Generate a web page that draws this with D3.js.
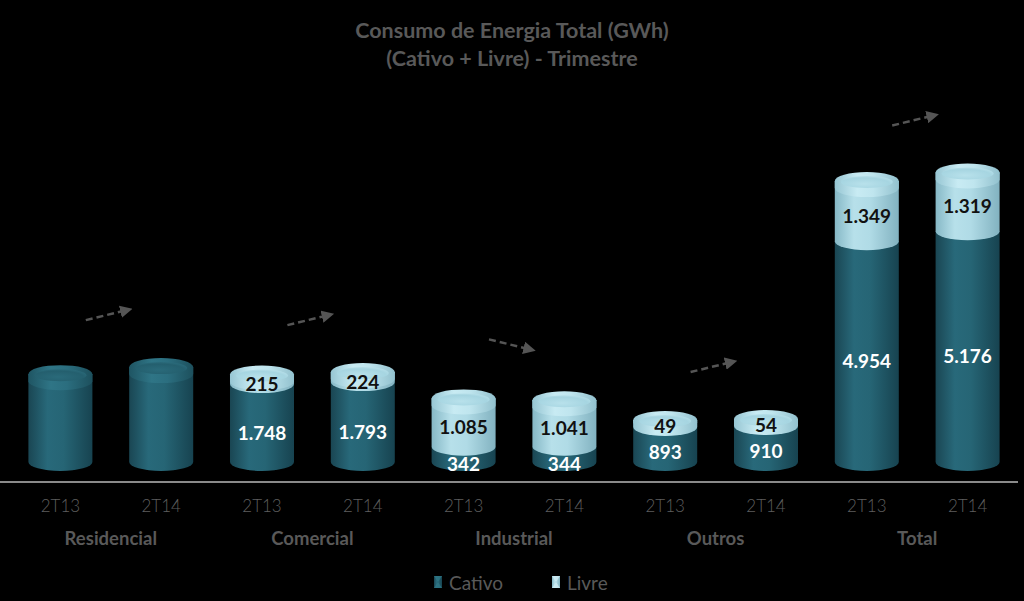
<!DOCTYPE html>
<html><head><meta charset="utf-8">
<script src="https://cdn.jsdelivr.net/npm/d3@7"></script>
<style>html,body{margin:0;background:#000;overflow:hidden}</style>
</head><body><svg id="c" width="1024" height="601"></svg>
<script>
const categories = ["Residencial","Comercial","Industrial","Outros","Total"];
const periods = ["2T13","2T14"];
const cativo2T13 = [1971,1748,342,893,4954];
const cativo2T14 = [2129,1793,344,910,5176];
const livre2T13 = [0,215,1085,49,1349];
const livre2T14 = [0,224,1041,54,1319];
const labelledCategories = ["Comercial","Industrial","Outros","Total"];
const seriesNames = ["Cativo","Livre"];
const titleLines = ["Consumo de Energia Total (GWh)","(Cativo + Livre) - Trimestre"];

const FONT = "Lato, 'Open Sans', sans-serif";
const GRAY = "#595959";
const svg = d3.select("#c");
svg.append("rect").attr("width",1024).attr("height",601).attr("fill","#000");

const defs = svg.append("defs");
function linGrad(id, stops){
  const g = defs.append("linearGradient").attr("id",id).attr("x1","0").attr("x2","1").attr("y1","0").attr("y2","0");
  stops.forEach(s=>g.append("stop").attr("offset",s[0]).attr("stop-color",s[1]));
}
function radGrad(id, stops){
  const g = defs.append("radialGradient").attr("id",id).attr("cx","0.45").attr("cy","0.65").attr("r","0.65");
  stops.forEach(s=>g.append("stop").attr("offset",s[0]).attr("stop-color",s[1]));
}
linGrad("gCativo",[[0,"#1a4653"],[0.3,"#28697a"],[0.55,"#266575"],[1,"#174350"]]);
linGrad("gLivre",[[0,"#86b8c6"],[0.3,"#b7e0ea"],[0.55,"#b0dbe6"],[1,"#82b2c0"]]);
linGrad("bCativo",[[0,"#1f5563"],[0.35,"#2f7586"],[0.6,"#2b6e7f"],[1,"#1d505d"]]);
linGrad("bLivre",[[0,"#97c6d3"],[0.35,"#c8ebf3"],[0.6,"#bfe5ee"],[1,"#92c1ce"]]);
radGrad("cCativo",[[0,"#2a6a7a"],[0.75,"#245f6e"],[1,"#2a6a7a"]]);
radGrad("cLivre",[[0,"#b8e1eb"],[0.75,"#a6d5e1"],[1,"#b6dfe9"]]);
const bodyFill = {Cativo:"url(#gCativo)", Livre:"url(#gLivre)"};
const bevelFill = {Cativo:"url(#bCativo)", Livre:"url(#bLivre)"};
const capFill = {Cativo:"url(#cCativo)", Livre:"url(#cLivre)"};

const bars = [];
categories.forEach((c,i)=>{
  bars.push({cat:c, per:periods[0], key:c+"|"+periods[0], Cativo:cativo2T13[i], Livre:livre2T13[i]});
  bars.push({cat:c, per:periods[1], key:c+"|"+periods[1], Cativo:cativo2T14[i], Livre:livre2T14[i]});
});

const x = d3.scaleBand().domain(bars.map(d=>d.key)).range([10,1018]).paddingInner(0.365).paddingOuter(0.1825);
const y = d3.scaleLinear().domain([0,7000]).range([462,150]);
const ry = 9;
const stack = d3.stack().keys(seriesNames)(bars);

function segPath(cx, w, yt, yb){
  const l=cx-w/2, r=cx+w/2, rx=w/2;
  return `M${l},${yt}L${l},${yb}A${rx},${ry} 0 0 0 ${r},${yb}L${r},${yt}Z`;
}

// axis baseline
svg.append("line").attr("x1",0).attr("x2",1018).attr("y1",482).attr("y2",482)
  .attr("stroke","#8a8a8a").attr("stroke-width",2);

const w = x.bandwidth();
// segments
stack.forEach(layer=>{
  const name = layer.key;
  svg.append("g").selectAll("path").data(layer.filter(d=>d[1]>d[0])).join("path")
    .attr("d",d=>segPath(x(d.data.key)+w/2, w, y(d[1]), y(d[0])))
    .attr("fill",bodyFill[name]);
});
// top caps (rounded bevel look)
bars.forEach(b=>{
  const total = b.Cativo + b.Livre;
  const topName = b.Livre > 0 ? "Livre" : "Cativo";
  const cx = x(b.key)+w/2, yt = y(total);
  const g = svg.append("g");
  g.append("path").attr("d",segPath(cx,w,yt,yt+7)).attr("fill", bevelFill[topName]);
  g.append("ellipse").attr("cx",cx).attr("cy",yt).attr("rx",w/2).attr("ry",ry).attr("fill",bevelFill[topName]);
  g.append("ellipse").attr("cx",cx).attr("cy",yt+1).attr("rx",w/2-6).attr("ry",ry-3).attr("fill",capFill[topName]);
});

// value labels
const labelled = bars.filter(b=>labelledCategories.includes(b.cat));
svg.append("g").selectAll("text").data(labelled).join("text")
  .attr("x",d=>x(d.key)+w/2)
  .attr("y",d=>(y(0)+y(d.Cativo))/2 + ry)
  .attr("text-anchor","middle").attr("dominant-baseline","central")
  .attr("font-family",FONT).attr("font-weight","bold").attr("font-size",19).attr("fill","#fff")
  .text(d=>d3.format(",")(d.Cativo).replace(/,/g,"."));
svg.append("g").selectAll("text").data(labelled).join("text")
  .attr("x",d=>x(d.key)+w/2)
  .attr("y",d=>(y(d.Cativo)+y(d.Cativo+d.Livre))/2 + 4)
  .attr("text-anchor","middle").attr("dominant-baseline","central")
  .attr("font-family",FONT).attr("font-weight","bold").attr("font-size",19).attr("fill","#111")
  .text(d=>d3.format(",")(d.Livre).replace(/,/g,"."));

// trend arrows
defs.append("marker").attr("id","arr").attr("viewBox","0 0 10 10").attr("refX",2).attr("refY",5)
  .attr("markerWidth",5).attr("markerHeight",5).attr("orient","auto")
  .append("path").attr("d","M0,0L10,5L0,10Z").attr("fill","#555");
categories.forEach((c,i)=>{
  const t1 = cativo2T13[i]+livre2T13[i], t2 = cativo2T14[i]+livre2T14[i];
  const c1 = x(c+"|"+periods[0])+w/2, c2 = x(c+"|"+periods[1])+w/2;
  const mid = (c1+c2)/2;
  const ym = y(Math.max(t1,t2)) - ry - 44;
  const s = t2 >= t1 ? 1 : -1;
  svg.append("line").attr("x1",mid-25).attr("y1",ym+s*6).attr("x2",mid+12).attr("y2",ym-s*3)
    .attr("stroke","#555").attr("stroke-width",2.5).attr("stroke-dasharray","7,4")
    .attr("marker-end","url(#arr)");
});

// x axis tick labels
const axis = d3.axisBottom(x).tickSize(0).tickFormat(k=>k.split("|")[1]);
const ax = svg.append("g").attr("transform","translate(0,497)").call(axis);
ax.select(".domain").remove();
ax.selectAll("text").attr("font-family",FONT).attr("font-weight","300").attr("font-size",17).attr("fill","#5e5e5e").attr("dy","0.71em");

// category labels
svg.append("g").selectAll("text").data(categories).join("text")
  .attr("x",c=>(x(c+"|"+periods[0])+x(c+"|"+periods[1]))/2 + w/2)
  .attr("y",538).attr("text-anchor","middle").attr("dominant-baseline","central")
  .attr("font-family",FONT).attr("font-weight","bold").attr("font-size",18.5).attr("fill",GRAY)
  .text(c=>c);

// title
svg.append("g").selectAll("text").data(titleLines).join("text")
  .attr("x",512).attr("y",(d,i)=>30+i*28).attr("text-anchor","middle").attr("dominant-baseline","central")
  .attr("font-family",FONT).attr("font-weight","bold").attr("font-size",21.5).attr("fill",GRAY)
  .text(d=>d);

// legend
const legX = [434,552];
const lg = svg.append("g").selectAll("g").data(seriesNames).join("g")
  .attr("transform",(d,i)=>`translate(${legX[i]},576)`);
lg.append("rect").attr("width",8).attr("height",12).attr("fill",d=>bodyFill[d]);
lg.append("path").attr("d","M0,0L8,0L4,6L8,12L0,12L4,6Z").attr("fill",d=>d==="Cativo"?"#2f7788":"#d4f0f7").attr("opacity",0.7);
lg.append("text").attr("x",15).attr("y",6).attr("dominant-baseline","central")
  .attr("font-family",FONT).attr("font-size",19).attr("fill",GRAY).text(d=>d);
</script></body></html>
